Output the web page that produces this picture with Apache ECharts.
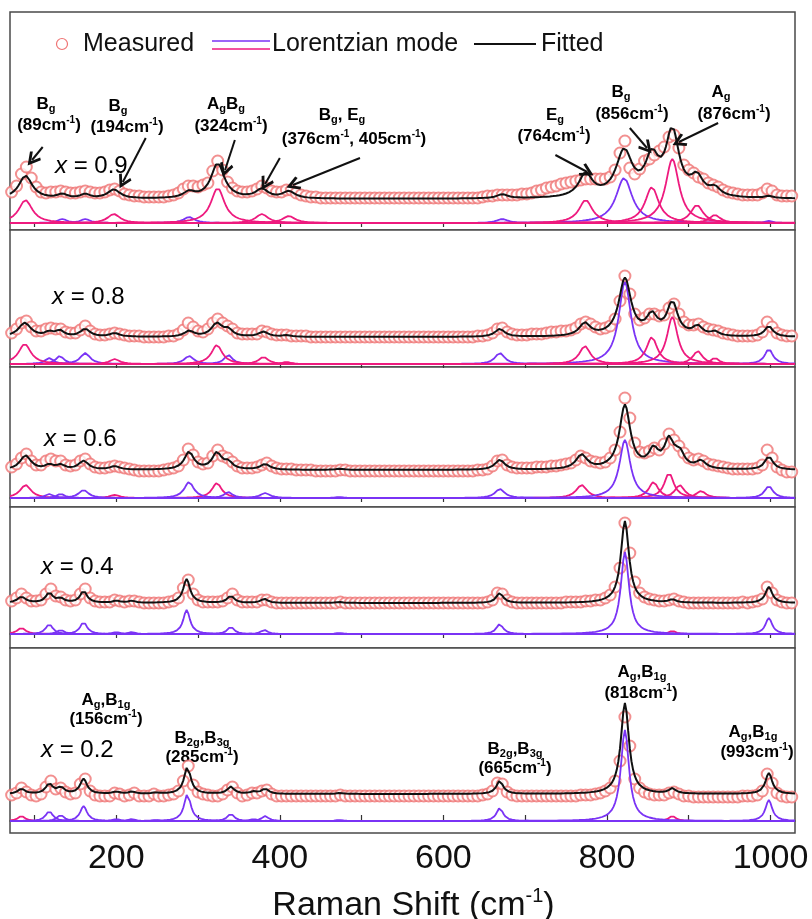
<!DOCTYPE html>
<html lang="en">
<head>
<meta charset="UTF-8">
<title>Raman spectra</title>
<style>
  html, body { margin: 0; width: 100%; height: 100%; background: #fff; }
  #chart { width: 812px; height: 919px; }
</style>
</head>
<body>
<div id="chart"></div>
<script src="https://cdn.jsdelivr.net/npm/echarts@6/dist/echarts.min.js"></script>
<script>
var chart = echarts.init(document.getElementById('chart'));

// compositions, top panel first
var compositions = ['0.9', '0.8', '0.6', '0.4', '0.2'];

// measured points: one every 6 cm-1 starting at 72 cm-1 (intensity, arb. units)
var shiftStart = 72, shiftStep = 6;
var measured09 = [
  31, 37, 49, 56, 45, 36, 31, 30, 31, 31,  32, 31, 30, 30, 31, 32, 31, 30, 30, 31,
  33, 34, 32, 29, 28, 27, 27, 26, 26, 26,  26, 26, 27, 28, 30, 34, 37, 37, 36, 38,
  40, 52, 62, 53, 41, 35, 32, 31, 31, 32,  34, 37, 35, 32, 31, 31, 33, 33, 30, 28,
  27, 26, 26, 25, 25, 25, 25, 25, 25, 25,  25, 25, 25, 25, 25, 25, 25, 25, 25, 25,
  25, 25, 25, 25, 25, 25, 25, 25, 25, 25,  25, 25, 25, 25, 25, 25, 26, 27, 27, 28,
  28, 28, 28, 28, 29, 29, 30, 32, 33, 35,  36, 37, 39, 40, 41, 42, 43, 44, 44, 44,
  44, 44, 46, 53, 70, 82, 55, 49, 54, 62,  64, 68, 72, 76, 86, 88, 75, 58, 53, 50,
  46, 44, 40, 38, 36, 33, 31, 30, 29, 28,  28, 28, 28, 30, 34, 32, 28, 27, 27, 27
];
var measured08 = [
  31, 35, 41, 43, 37, 33, 33, 35, 36, 35,  35, 32, 31, 31, 34, 38, 33, 30, 29, 29,
  30, 31, 30, 29, 28, 28, 28, 27, 27, 27,  27, 27, 28, 28, 30, 34, 41, 37, 33, 32,
  35, 41, 45, 41, 38, 35, 31, 30, 30, 30,  30, 33, 32, 30, 29, 29, 29, 28, 28, 28,
  28, 27, 27, 27, 27, 27, 27, 27, 27, 27,  27, 27, 27, 27, 27, 27, 27, 27, 27, 27,
  27, 27, 27, 27, 27, 27, 27, 27, 27, 27,  27, 27, 27, 27, 27, 28, 28, 29, 31, 35,
  36, 32, 30, 29, 29, 29, 30, 30, 30, 31,  32, 32, 33, 33, 34, 36, 40, 42, 40, 37,
  35, 36, 38, 45, 63, 88, 70, 50, 44, 46,  50, 50, 48, 49, 56, 60, 50, 42, 39, 39,
  40, 37, 35, 34, 33, 31, 30, 29, 28, 28,  28, 28, 29, 32, 42, 37, 31, 29, 28, 28
];
var measured06 = [
  31, 34, 40, 44, 37, 33, 33, 37, 39, 37,  37, 33, 32, 33, 37, 39, 34, 31, 30, 30,
  31, 32, 31, 30, 29, 28, 27, 27, 27, 27,  27, 28, 29, 30, 32, 38, 49, 43, 36, 34,
  35, 42, 48, 42, 40, 36, 32, 30, 30, 30,  31, 33, 35, 32, 30, 29, 29, 29, 28, 28,
  28, 28, 27, 27, 27, 27, 27, 28, 28, 27,  27, 27, 27, 27, 27, 27, 27, 27, 27, 27,
  27, 27, 27, 27, 27, 27, 27, 27, 27, 27,  27, 27, 27, 27, 27, 28, 28, 29, 32, 37,
  38, 33, 31, 30, 30, 30, 30, 31, 31, 31,  32, 32, 33, 34, 35, 38, 42, 40, 37, 36,
  35, 36, 40, 48, 66, 100, 80, 55, 46, 45, 47, 50, 48, 54, 64, 58, 52, 45, 40, 38,
  39, 37, 34, 33, 32, 31, 30, 29, 29, 29,  29, 29, 30, 33, 48, 40, 31, 28, 26, 26
];
var measured04 = [
  33, 36, 40, 36, 33, 33, 34, 40, 45, 38,  37, 34, 33, 34, 40, 45, 36, 33, 32, 32,
  32, 34, 33, 32, 33, 33, 32, 31, 31, 31,  31, 31, 32, 33, 36, 46, 54, 40, 34, 32,
  32, 32, 32, 33, 36, 40, 34, 32, 32, 32,  32, 34, 34, 32, 31, 31, 31, 31, 31, 31,
  31, 31, 31, 31, 31, 31, 31, 32, 31, 31,  31, 31, 31, 31, 31, 31, 31, 31, 31, 31,
  31, 31, 31, 31, 31, 31, 31, 31, 31, 31,  31, 31, 31, 31, 31, 31, 31, 32, 34, 41,
  40, 34, 32, 31, 31, 31, 31, 31, 31, 31,  31, 31, 31, 32, 32, 32, 32, 33, 33, 34,
  34, 36, 39, 47, 66, 111, 81, 52, 41, 37, 35, 34, 33, 33, 34, 35, 33, 32, 31, 31,
  31, 31, 31, 31, 31, 31, 31, 31, 31, 32,  31, 32, 33, 35, 47, 41, 34, 32, 31, 31
];
var measured02 = [
  26, 28, 33, 29, 26, 25, 27, 34, 40, 32,  33, 29, 27, 28, 37, 42, 30, 26, 25, 25,
  25, 28, 27, 25, 26, 28, 25, 25, 25, 27,  25, 25, 26, 27, 30, 40, 55, 36, 29, 27,
  26, 25, 25, 27, 31, 34, 28, 25, 26, 28,  28, 30, 31, 27, 25, 25, 25, 25, 25, 25,
  25, 25, 25, 25, 25, 25, 25, 26, 25, 25,  25, 25, 25, 25, 25, 25, 25, 25, 25, 25,
  25, 25, 25, 25, 25, 25, 25, 25, 25, 25,  25, 25, 25, 25, 25, 25, 26, 27, 30, 38,
  37, 29, 26, 25, 25, 25, 25, 25, 25, 25,  25, 25, 25, 25, 25, 25, 26, 26, 26, 27,
  28, 30, 33, 40, 60, 104, 75, 42, 33, 29, 27, 26, 26, 26, 28, 29, 27, 25, 25, 24,
  24, 24, 24, 24, 24, 24, 24, 24, 24, 25,  25, 25, 26, 30, 47, 38, 28, 25, 24, 24
];

// Lorentzian modes: centre (cm-1), height, half width (cm-1), kind (0 = pink, 1 = purple)
var centers09 = [89, 134, 162, 197, 289, 324, 378, 411, 672, 774, 821, 855, 880, 910, 932, 998];
var heights09 = [23, 4, 4, 9, 6, 35, 9, 7, 4, 23, 45, 36, 64, 18, 8, 2];
var widths09  = [10, 7, 7, 9, 8, 10, 9, 9, 8, 10, 12, 10, 10, 9, 8, 6];
var kinds09   = [0, 1, 1, 0, 1, 0, 0, 0, 1, 0, 1, 0, 0, 0, 0, 1];

var centers08 = [88, 118, 131, 162, 198, 289, 323, 337, 380, 408, 669, 773, 822, 855, 880, 911, 932, 998];
var heights08 = [20, 6, 8, 11, 5, 8, 19, 9, 7, 2, 11, 18, 82, 27, 47, 13, 6, 15];
var widths08  = [9, 6, 6, 7, 7, 7, 8, 6, 7, 6, 7, 8, 9, 8, 8, 7, 6, 6];
var kinds08   = [0, 1, 1, 1, 0, 1, 0, 1, 0, 0, 1, 0, 1, 0, 0, 0, 0, 1];

var centers06 = [89, 118, 132, 160, 198, 289, 323, 337, 382, 473, 669, 769, 822, 857, 876, 889, 915, 998];
var heights06 = [13, 4, 4, 8, 3, 16, 15, 6, 5, 1, 9, 13, 58, 16, 25, 13, 7, 12];
var widths06  = [8, 6, 6, 7, 7, 7, 7, 6, 7, 6, 7, 8, 8, 7, 7, 7, 7, 6];
var kinds06   = [0, 1, 1, 1, 0, 1, 0, 1, 1, 1, 1, 0, 1, 0, 0, 0, 0, 1];

var centers04 = [84, 118, 132, 160, 200, 219, 286, 340, 381, 473, 669, 822, 880, 998];
var heights04 = [6, 10, 4, 12, 2, 2, 24, 7, 4, 1, 10, 82, 3, 16];
var widths04  = [6, 5, 5, 5, 5, 5, 5, 5, 5, 5, 5, 6, 5, 5];
var kinds04   = [0, 1, 1, 1, 1, 1, 1, 1, 1, 1, 1, 1, 0, 1];

var centers02 = [84, 118, 132, 160, 200, 219, 248, 287, 340, 368, 382, 473, 669, 822, 880, 998];
var heights02 = [5, 10, 6, 15, 2, 2, 1, 27, 7, 2, 5, 1, 13, 91, 5, 21];
var widths02  = [5, 5, 5, 5, 5, 5, 5, 5, 5, 5, 5, 5, 5, 6, 5, 5];
var kinds02   = [0, 1, 1, 1, 1, 1, 1, 1, 1, 1, 1, 1, 1, 1, 0, 1];

// fitted curve = background + scale * sum of modes
var fitOffsets = [24, 27, 28, 31, 27];
var fitScales  = [1, 0.7, 1.1, 1, 1];

var tickValues  = [100, 200, 300, 400, 500, 600, 700, 800, 900, 1000];
var labelValues = [200, 400, 600, 800, 1000];

// arrows in the top panel: [shift, intensity] of tail and tip
var arrowTails = [[110, 76], [236, 85], [345, 83], [400, 65], [498, 65], [737, 68], [828, 95], [936, 100]];
var arrowTips  = [[97, 63], [208, 41], [333, 53], [382, 39], [416, 38], [776, 51], [849, 75], [888, 81]];

var panels = [
  { measured: measured09, c: centers09, h: heights09, w: widths09, k: kinds09 },
  { measured: measured08, c: centers08, h: heights08, w: widths08, k: kinds08 },
  { measured: measured06, c: centers06, h: heights06, w: widths06, k: kinds06 },
  { measured: measured04, c: centers04, h: heights04, w: widths04, k: kinds04 },
  { measured: measured02, c: centers02, h: heights02, w: widths02, k: kinds02 }
];

// ---- layout / style ----
var FONT = '"Liberation Sans", Arial, sans-serif';
var PINK = '#ee1a7e', PURPLE = '#7a33f5', RED = '#ef7474', INK = '#111';
var gridTops    = [12, 230, 367, 507, 648];
var gridHeights = [218, 137, 140, 141, 185];
var yMins = [-7, -3, -9, -14, -12];
var yMaxs = [211, 134, 131, 127, 173];
var pinkOnTop = [true, true, false, false, false];
var compPos = [[55, 166], [52, 297], [44, 439], [41, 567], [41, 750]];

function lorentz(x, c, h, w) {
  return h * w * w / ((x - c) * (x - c) + w * w);
}

var drawXs = [];
for (var x = 70; x <= 1030; x += 2) drawXs.push(x);

var grids = [], xAxes = [], yAxes = [], series = [];

panels.forEach(function (p, i) {
  var last = i === panels.length - 1;
  grids.push({
    left: 10, right: 17, top: gridTops[i], height: gridHeights[i],
    containLabel: false, outerBoundsMode: 'none',
    show: true, borderColor: '#4a4a4a', borderWidth: 1.5, backgroundColor: '#fff'
  });
  xAxes.push({
    type: 'value', gridIndex: i, min: 70, max: 1030,
    axisLine: { show: true, lineStyle: { color: '#4a4a4a', width: 1.5 } },
    axisTick: {
      show: true, inside: last, length: last ? 6 : 4,
      customValues: tickValues, lineStyle: { color: '#333', width: 1.2 }
    },
    splitLine: { show: false },
    axisLabel: last ? {
      show: true, customValues: labelValues, fontSize: 34, color: INK,
      fontFamily: FONT, margin: 9,
      formatter: function (v) { return String(v); }
    } : { show: false },
    name: last ? '{a|Raman Shift (cm}{b|-1}{a|)}' : '',
    nameLocation: 'middle', nameGap: 53,
    nameTextStyle: {
      padding: [0, 0, 0, 22],
      rich: {
        a: { fontSize: 34, lineHeight: 40, color: INK, fontFamily: FONT },
        b: { fontSize: 20, lineHeight: 24, verticalAlign: 'top', color: INK, fontFamily: FONT }
      }
    }
  });
  yAxes.push({ type: 'value', gridIndex: i, min: yMins[i], max: yMaxs[i], show: false });

  // measured points
  series.push({
    type: 'scatter', xAxisIndex: i, yAxisIndex: i, silent: true,
    symbol: 'emptyCircle', symbolSize: 11,
    itemStyle: { color: RED, borderColor: RED, borderWidth: 1.1 },
    data: p.measured.map(function (v, n) { return [shiftStart + n * shiftStep, v]; })
  });

  // modes
  var order = p.c.map(function (c, n) { return n; });
  order.sort(function (a, b) {
    var ka = pinkOnTop[i] ? 1 - p.k[a] : p.k[a];
    var kb = pinkOnTop[i] ? 1 - p.k[b] : p.k[b];
    return ka - kb;
  });
  order.forEach(function (n) {
    series.push({
      type: 'line', xAxisIndex: i, yAxisIndex: i, silent: true,
      showSymbol: false, symbol: 'none',
      lineStyle: { color: p.k[n] ? PURPLE : PINK, width: 1.8 },
      data: drawXs.map(function (x) { return [x, lorentz(x, p.c[n], p.h[n], p.w[n])]; })
    });
  });

  // fitted
  var fitted = {
    type: 'line', xAxisIndex: i, yAxisIndex: i, silent: true,
    showSymbol: false, symbol: 'none',
    lineStyle: { color: INK, width: 2 },
    data: drawXs.map(function (x) {
      var s = 0;
      for (var n = 0; n < p.c.length; n++) s += lorentz(x, p.c[n], p.h[n], p.w[n]);
      return [x, fitOffsets[i] + fitScales[i] * s];
    })
  };
  if (i === 0) {
    fitted.markLine = {
      silent: true, animation: false,
      symbol: ['none', 'path://M5 0 L10 8.4 L8.4 9.6 L5 3.9 L1.6 9.6 L0 8.4 Z'],
      symbolSize: [14, 14],
      label: { show: false },
      emphasis: { disabled: true },
      lineStyle: { color: INK, width: 2, type: 'solid' },
      data: arrowTails.map(function (t, n) {
        return [{ coord: t }, { coord: arrowTips[n] }];
      })
    };
  }
  series.push(fitted);
});

// ---- texts ----
var noteRich = {
  t: { fontSize: 17, fontWeight: 'bold', fontFamily: FONT, color: INK, lineHeight: 20 },
  s: { fontSize: 11, fontWeight: 'bold', fontFamily: FONT, color: INK, lineHeight: 11, verticalAlign: 'bottom' },
  p: { fontSize: 10, fontWeight: 'bold', fontFamily: FONT, color: INK, lineHeight: 11, verticalAlign: 'top' }
};
function note(text, x, y) {
  return {
    type: 'text', x: x, y: y, silent: true,
    style: { text: text, align: 'center', verticalAlign: 'middle', rich: noteRich }
  };
}
var notes = [
  ['{t|B}{s|g}', 46, 104], ['{t|(89cm}{p|-1}{t|)}', 49, 125],
  ['{t|B}{s|g}', 118, 106], ['{t|(194cm}{p|-1}{t|)}', 127, 127],
  ['{t|A}{s|g}{t|B}{s|g}', 226, 104], ['{t|(324cm}{p|-1}{t|)}', 231, 126],
  ['{t|B}{s|g}{t|, E}{s|g}', 342, 115], ['{t|(376cm}{p|-1}{t|, 405cm}{p|-1}{t|)}', 354, 139],
  ['{t|E}{s|g}', 555, 115], ['{t|(764cm}{p|-1}{t|)}', 554, 136],
  ['{t|B}{s|g}', 621, 92], ['{t|(856cm}{p|-1}{t|)}', 632, 114],
  ['{t|A}{s|g}', 721, 92], ['{t|(876cm}{p|-1}{t|)}', 734, 114],
  ['{t|A}{s|g}{t|,B}{s|1g}', 106, 700], ['{t|(156cm}{p|-1}{t|)}', 106, 719],
  ['{t|B}{s|2g}{t|,B}{s|3g}', 202, 738], ['{t|(285cm}{p|-1}{t|)}', 202, 757],
  ['{t|B}{s|2g}{t|,B}{s|3g}', 515, 749], ['{t|(665cm}{p|-1}{t|)}', 515, 768],
  ['{t|A}{s|g}{t|,B}{s|1g}', 642, 672], ['{t|(818cm}{p|-1}{t|)}', 641, 693],
  ['{t|A}{s|g}{t|,B}{s|1g}', 753, 732], ['{t|(993cm}{p|-1}{t|)}', 757, 752]
];

var graphics = notes.map(function (n) { return note(n[0], n[1], n[2]); });

compositions.forEach(function (c, i) {
  graphics.push({
    type: 'text', x: compPos[i][0], y: compPos[i][1], silent: true,
    style: {
      text: '{i|x}{n| = ' + c + '}', verticalAlign: 'middle',
      rich: {
        i: { fontSize: 24, fontStyle: 'italic', fontFamily: FONT, color: INK },
        n: { fontSize: 24, fontFamily: FONT, color: INK }
      }
    }
  });
});

// legend row
var legendY = 44;
graphics.push(
  { type: 'circle', silent: true, shape: { cx: 62, cy: legendY, r: 5.5 },
    style: { fill: '#fff', stroke: RED, lineWidth: 1.2 } },
  { type: 'text', x: 83, y: legendY, silent: true,
    style: { text: 'Measured', fontSize: 25, fontFamily: FONT, fill: INK, verticalAlign: 'middle' } },
  { type: 'line', silent: true, shape: { x1: 212, y1: legendY - 3, x2: 270, y2: legendY - 3 },
    style: { stroke: PURPLE, lineWidth: 1.6 } },
  { type: 'line', silent: true, shape: { x1: 212, y1: legendY + 5, x2: 270, y2: legendY + 5 },
    style: { stroke: PINK, lineWidth: 1.6 } },
  { type: 'text', x: 272, y: legendY, silent: true,
    style: { text: 'Lorentzian mode', fontSize: 25, fontFamily: FONT, fill: INK, verticalAlign: 'middle' } },
  { type: 'line', silent: true, shape: { x1: 474, y1: legendY, x2: 536, y2: legendY },
    style: { stroke: INK, lineWidth: 2 } },
  { type: 'text', x: 541, y: legendY, silent: true,
    style: { text: 'Fitted', fontSize: 25, fontFamily: FONT, fill: INK, verticalAlign: 'middle' } }
);

chart.setOption({
  animation: false,
  backgroundColor: '#fff',
  grid: grids,
  xAxis: xAxes,
  yAxis: yAxes,
  series: series,
  graphic: graphics
});
</script>
</body>
</html>
